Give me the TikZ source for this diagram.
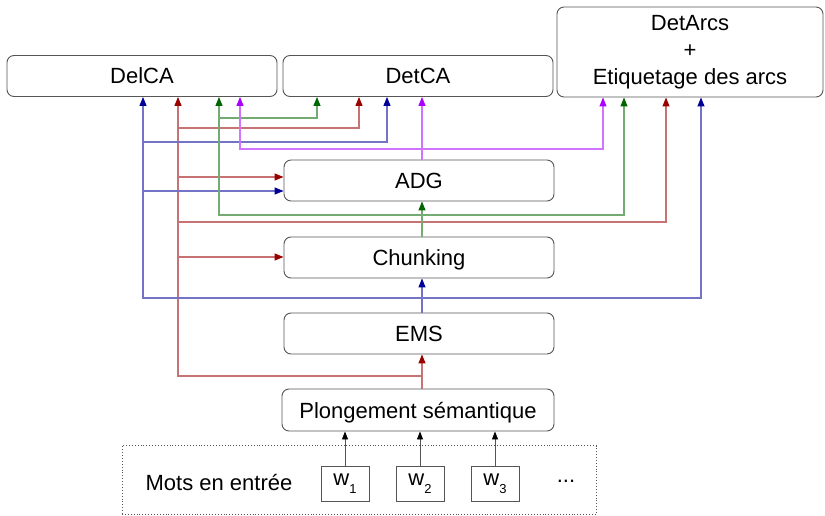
\documentclass[tikz,border=0pt]{standalone}
\usepackage{fontspec}
\setmainfont{Liberation Sans}
\usetikzlibrary{arrows.meta}

\definecolor{boxgray}{HTML}{555555}
\definecolor{cBlue}{HTML}{000099}
\definecolor{cRed}{HTML}{990000}
\definecolor{cGreen}{HTML}{006600}
\definecolor{cPurple}{HTML}{AA00FF}

\begin{document}
\begin{tikzpicture}[x=1pt,y=-1pt,
  box/.style={draw=boxgray, rounded corners=7pt, line width=0.9pt, fill=white,
    minimum width=270pt, minimum height=41pt, inner sep=0pt, text depth=0pt,
    font=\fontsize{22}{27}\selectfont},
  wbox/.style={draw=boxgray, line width=0.9pt, minimum width=48pt, minimum height=35pt,
    inner sep=0pt, font=\fontsize{22}{27}\selectfont},
  lbl/.style={inner sep=0pt, font=\fontsize{22}{27}\selectfont},
  bluel/.style={draw=cBlue!55, line width=1.1pt},
  redl/.style={draw=cRed!55, line width=1.1pt},
  greenl/.style={draw=cGreen!55, line width=1.1pt},
  purplel/.style={draw=cPurple!55, line width=1.1pt},
  tipB/.style={-{Triangle[length=9pt,width=7pt,color=cBlue]}},
  tipR/.style={-{Triangle[length=9pt,width=7pt,color=cRed]}},
  tipG/.style={-{Triangle[length=9pt,width=7pt,color=cGreen]}},
  tipP/.style={-{Triangle[length=9pt,width=7pt,color=cPurple]}},
  tipBB/.style={{Triangle[length=9pt,width=7pt,color=cBlue]}-{Triangle[length=9pt,width=7pt,color=cBlue]}},
  tipGG/.style={{Triangle[length=9pt,width=7pt,color=cGreen]}-{Triangle[length=9pt,width=7pt,color=cGreen]}},
  tipPP/.style={{Triangle[length=9pt,width=7pt,color=cPurple]}-{Triangle[length=9pt,width=7pt,color=cPurple]}},
  inarrow/.style={draw=boxgray, line width=0.9pt, -{Triangle[length=8pt,width=6pt,color=black]}}
]
\useasboundingbox (0,0) rectangle (825,516);

% ---- top-level modules
\node[box] (delca) at (142,76) {DelCA};
\node[box] (detca) at (418,76) {DetCA};
\node[box, minimum width=266pt, minimum height=90pt, align=center, text depth=] (detarcs) at (690,52)
  {DetArcs\\+\\Etiquetage des arcs};

% ---- processing chain
\node[box] (adg) at (419,180.5) {ADG};
\node[box] (chunk) at (419,257.5) {Chunking};
\node[box] (ems) at (419,333.5) {EMS};
\node[box, minimum width=272pt, minimum height=42pt] (plong) at (418,410) {Plongement sémantique};

% ---- input words
\node[draw=boxgray, dotted, line width=0.9pt, minimum width=474pt, minimum height=69pt,
  inner sep=0pt] (inputs) at (359,480) {};
\node[lbl] (mots) at (219,483) {Mots en entrée};
\node[wbox] (w1) at (345,483.5) {w\raisebox{-8pt}{\fontsize{13}{13}\selectfont 1}};
\node[wbox] (w2) at (420,483.5) {w\raisebox{-8pt}{\fontsize{13}{13}\selectfont 2}};
\node[wbox] (w3) at (495,483.5) {w\raisebox{-8pt}{\fontsize{13}{13}\selectfont 3}};
\node[lbl] (dots) at (566,481) {...};

% ---- column and row positions of the connectors
\coordinate (mid) at (422,0);
\coordinate (colB) at (143,0);   \coordinate (colR) at (178,0);
\coordinate (colG) at (219,0);   \coordinate (colP) at (240,0);
\coordinate (dcG) at (317,0);    \coordinate (dcR) at (359,0);
\coordinate (dcB) at (387,0);
\coordinate (daP) at (603,0);    \coordinate (daG) at (624,0);
\coordinate (daR) at (666,0);    \coordinate (daB) at (701,0);
\coordinate (rowG1) at (0,118);  \coordinate (rowR1) at (0,128);
\coordinate (rowB1) at (0,142);  \coordinate (rowP) at (0,149);
\coordinate (rowR2) at (0,177);  \coordinate (rowB2) at (0,191);
\coordinate (rowG2) at (0,215);  \coordinate (rowR3) at (0,222);
\coordinate (rowR5) at (0,257);
\coordinate (rowB3) at (0,298);  \coordinate (rowR4) at (0,376);

% ---- Plongement sémantique output (red)
\draw[redl, tipR] (mid |- plong.north) -- (mid |- ems.south);
\draw[redl, tipR] (mid |- rowR4) -| (colR |- delca.south);
\draw[redl, tipR] (colR |- rowR5) -- (chunk.west |- rowR5);
\draw[redl, tipR] (colR |- rowR2) -- (adg.west |- rowR2);
\draw[redl, tipR] (colR |- rowR1) -| (dcR |- detca.south);
\draw[redl, tipR] (colR |- rowR3) -| (daR |- detarcs.south);

% ---- EMS output (blue)
\draw[bluel, tipB] (mid |- ems.north) -- (mid |- chunk.south);
\draw[bluel, tipBB] (colB |- delca.south) -- (colB |- rowB3) -- (daB |- rowB3) -- (daB |- detarcs.south);
\draw[bluel, tipB] (colB |- rowB2) -- (adg.west |- rowB2);
\draw[bluel, tipB] (colB |- rowB1) -| (dcB |- detca.south);

% ---- Chunking output (green)
\draw[greenl, tipG] (mid |- chunk.north) -- (mid |- adg.south);
\draw[greenl, tipGG] (colG |- delca.south) -- (colG |- rowG2) -- (daG |- rowG2) -- (daG |- detarcs.south);
\draw[greenl, tipG] (colG |- rowG1) -| (dcG |- detca.south);

% ---- ADG output (purple)
\draw[purplel, tipP] (mid |- adg.north) -- (mid |- detca.south);
\draw[purplel, tipPP] (colP |- delca.south) -- (colP |- rowP) -- (daP |- rowP) -- (daP |- detarcs.south);

% ---- words into the embedding
\draw[inarrow] (w1.north) -- (w1.north |- plong.south);
\draw[inarrow] (w2.north) -- (w2.north |- plong.south);
\draw[inarrow] (w3.north) -- (w3.north |- plong.south);
\end{tikzpicture}
\end{document}
